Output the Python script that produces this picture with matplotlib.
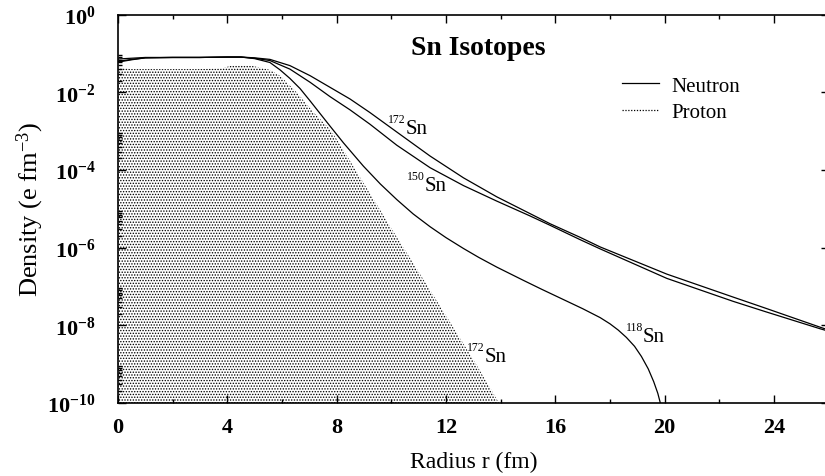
import numpy as np
import matplotlib
matplotlib.use("Agg")
import matplotlib.pyplot as plt
from matplotlib.lines import Line2D

plt.rcParams['font.family'] = ['Liberation Serif', 'DejaVu Serif']
plt.rcParams['mathtext.fontset'] = 'custom'
plt.rcParams['mathtext.rm'] = 'Liberation Serif'
plt.rcParams['mathtext.bf'] = 'Liberation Serif:bold'
plt.rcParams['mathtext.it'] = 'Liberation Serif:italic'
plt.rcParams['hatch.linewidth'] = 0.65

# neutron densities (log10 of e fm^-3)
r_118 = [0, 0.5, 1, 2, 3, 4, 4.5, 5.0, 5.56, 5.93, 6.29, 6.66, 7.03, 7.4, 7.76,
         8.25, 8.98, 9.6, 10.2, 10.8, 11.42, 12.0, 12.64, 13.2, 13.86, 14.83,
         15.5, 16.4, 17.0, 17.64, 18.0, 18.3, 18.6, 18.9, 19.15, 19.4, 19.6,
         19.75, 19.88]
log_118 = [-1.20, -1.15, -1.11, -1.10, -1.10, -1.09, -1.09, -1.13, -1.23, -1.42,
           -1.64, -1.90, -2.22, -2.55, -2.87, -3.30, -3.90, -4.36, -4.76, -5.13,
           -5.46, -5.74, -6.02, -6.25, -6.50, -6.84, -7.07, -7.37, -7.57, -7.80,
           -7.96, -8.12, -8.31, -8.54, -8.80, -9.12, -9.45, -9.75, -10.1]

r_150 = [0, 0.5, 1, 2, 3, 4, 4.5, 5.0, 5.56, 6.29, 7.03, 7.76, 8.49, 9.22, 10.2,
         11.42, 12.64, 13.86, 15.07, 15.8, 16.9, 17.64, 20.08, 22.5, 23.7, 25.7, 26]
log_150 = [-1.14, -1.12, -1.10, -1.10, -1.10, -1.09, -1.09, -1.12, -1.18, -1.40,
           -1.74, -2.11, -2.45, -2.82, -3.36, -3.94, -4.40, -4.80, -5.18, -5.42,
           -5.79, -6.03, -6.79, -7.38, -7.65, -8.09, -8.15]

r_172 = [0, 0.5, 1, 2, 3, 4, 4.5, 5.0, 5.56, 6.29, 7.03, 7.76, 8.49, 9.22, 10.2,
         11.42, 12.64, 13.86, 15.07, 15.8, 16.9, 17.64, 20.08, 22.5, 23.7, 25.7, 26]
log_172 = [-1.22, -1.16, -1.11, -1.10, -1.10, -1.09, -1.09, -1.11, -1.15, -1.31,
           -1.57, -1.87, -2.17, -2.52, -3.02, -3.64, -4.20, -4.69, -5.12, -5.38,
           -5.73, -5.98, -6.68, -7.27, -7.56, -8.05, -8.12]

# proton densities (outer envelope, 172Sn)
r_p = [0, 0.5, 1, 2, 3, 3.8, 4.2, 4.8, 5.2, 5.56, 5.93, 6.54, 7.15, 7.76, 8.0,
       9.0, 10.0, 11.0, 12.0, 13.0, 13.9, 14.0]
log_p = [-1.36, -1.40, -1.40, -1.40, -1.40, -1.38, -1.30, -1.30, -1.36, -1.42,
         -1.57, -2.00, -2.51, -2.95, -3.20, -4.35, -5.50, -6.62, -7.75, -8.88,
         -9.95, -10.1]

iso_mass = ['172', '150', '118', '172']
iso_r = [10.54, 11.23, 19.21, 13.43]
iso_log = [-3.05, -4.52, -8.41, -8.92]

x_major = [0, 4, 8, 12, 16, 20, 24]
x_minor = [2, 6, 10, 14, 18, 22, 26]
y_exp = [0, -2, -4, -6, -8, -10]


fig = plt.figure(figsize=(8.25, 4.77), dpi=100)
ax = fig.add_axes([0.143, 0.153, 0.8614, 0.814])

ax.fill_between(r_p, 1e-10, 10.0 ** np.array(log_p), facecolor='none',
                edgecolor='black', hatch='......', linewidth=0)

for r, lg in [(r_118, log_118), (r_150, log_150), (r_172, log_172)]:
    ax.plot(r, 10.0 ** np.array(lg), color='black', lw=0.9)

for m, r, lg in zip(iso_mass, iso_r, iso_log):
    ax.text(r, 10.0 ** lg, 'Sn', fontsize=15, ha='left', va='baseline')
    ax.annotate(m, xy=(r, 10.0 ** lg), xytext=(0, 8), textcoords='offset points',
                fontsize=8.5, ha='right', va='baseline')

ax.set_yscale('log')
ax.set_xlim(0, 26)
ax.set_ylim(1e-10, 1)

ax.set_xticks(x_major)
ax.set_xticklabels([str(v) for v in x_major], fontweight='bold', fontsize=16)
ax.set_xticks(x_minor, minor=True)
ax.set_yticks([10.0 ** e for e in y_exp])
ax.set_yticklabels([r'$\mathbf{10^{%d}}$' % e for e in y_exp], fontsize=16)
ax.set_yticks([k * 10.0 ** e for e in y_exp[1:] for k in range(2, 10)], minor=True)
ax.yaxis.set_minor_formatter(plt.NullFormatter())

ax.tick_params(which='both', direction='in', top=True, right=True, width=1)
ax.tick_params(which='major', length=6)
ax.tick_params(which='minor', length=3)
ax.tick_params(axis='y', which='major', pad=16)
ax.tick_params(axis='x', which='major', pad=10)
for s in ax.spines.values():
    s.set_linewidth(1.2)

ax.set_xlabel('Radius r (fm)', fontsize=17, labelpad=10)
ax.set_ylabel(r'Density (e fm$^{-3}$)', fontsize=19, labelpad=1)

ax.text(0.507, 0.948, 'Sn Isotopes', transform=ax.transAxes, fontsize=20,
        fontweight='bold', ha='center', va='top')

handles = [Line2D([], [], color='black', lw=0.9),
           Line2D([], [], color='black', lw=0.9, ls=(0, (1, 1.3)))]
ax.legend(handles, ['Neutron', 'Proton'], loc='upper left', frameon=False,
          bbox_to_anchor=(0.709, 0.842), fontsize=15, handlelength=1.8,
          handletextpad=0.6, labelspacing=0.33, borderpad=0, borderaxespad=0)

fig.savefig('out.png', dpi=100)
